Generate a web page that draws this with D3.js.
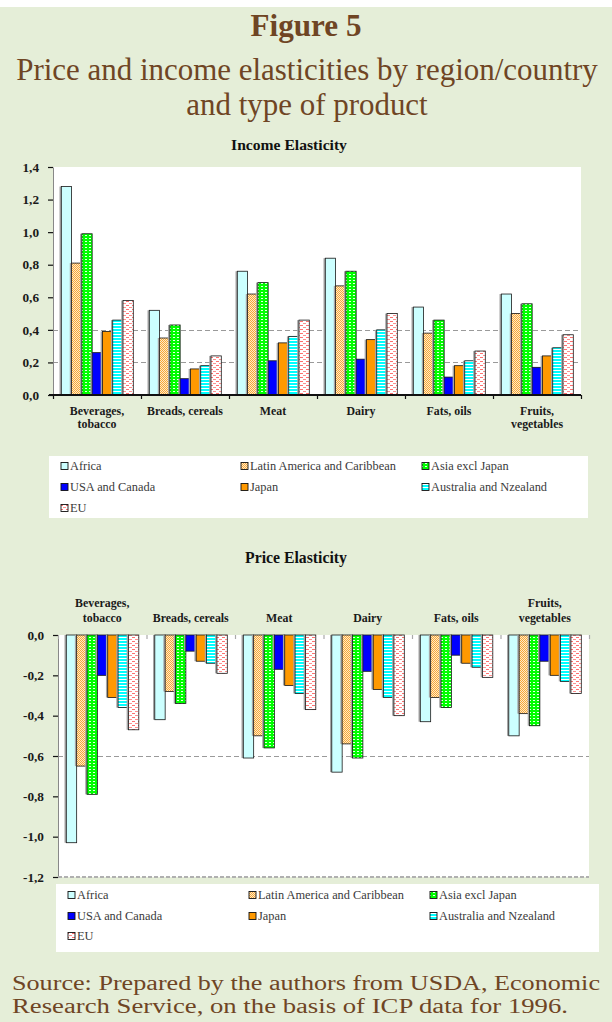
<!DOCTYPE html>
<html>
<head>
<meta charset="utf-8">
<script src="https://cdn.jsdelivr.net/npm/d3@7"></script>
<style>
  html, body { margin: 0; padding: 0; background: #e5eed8; }
  svg { display: block; }
</style>
</head>
<body>
<svg id="fig" width="612" height="1022"></svg>
<script>
// ---- Data -------------------------------------------------------------
const categories = ["Beverages,\ntobacco", "Breads, cereals", "Meat", "Dairy", "Fats, oils", "Fruits,\nvegetables"];
const regions = ["Africa", "Latin America and Caribbean", "Asia excl Japan", "USA and Canada", "Japan", "Australia and Nzealand", "EU"];

// Income elasticity, one array per region (order follows categories)
const incomeAfrica    = [1.28, 0.52, 0.76, 0.84, 0.54, 0.62];
const incomeLatin     = [0.81, 0.35, 0.62, 0.67, 0.38, 0.50];
const incomeAsia      = [0.99, 0.43, 0.69, 0.76, 0.46, 0.56];
const incomeUSA       = [0.26, 0.10, 0.21, 0.22, 0.11, 0.17];
const incomeJapan     = [0.39, 0.16, 0.32, 0.34, 0.18, 0.24];
const incomeAustralia = [0.46, 0.18, 0.36, 0.40, 0.21, 0.29];
const incomeEU        = [0.58, 0.24, 0.46, 0.50, 0.27, 0.37];

// Price elasticity, one array per region
const priceAfrica    = [-1.03, -0.42, -0.61, -0.68, -0.43, -0.50];
const priceLatin     = [-0.65, -0.28, -0.50, -0.54, -0.31, -0.39];
const priceAsia      = [-0.79, -0.34, -0.56, -0.61, -0.36, -0.45];
const priceUSA       = [-0.20, -0.08, -0.17, -0.18, -0.10, -0.13];
const priceJapan     = [-0.31, -0.13, -0.25, -0.27, -0.14, -0.20];
const priceAustralia = [-0.36, -0.14, -0.29, -0.31, -0.16, -0.23];
const priceEU        = [-0.47, -0.19, -0.37, -0.40, -0.21, -0.29];

const incomeTicks = [0, 0.2, 0.4, 0.6, 0.8, 1.0, 1.2, 1.4];
const priceTicks  = [0, -0.2, -0.4, -0.6, -0.8, -1.0, -1.2];
const incomeGrid  = [0.2, 0.4];
const priceGrid   = [-0.6];

const incomeSeries = [incomeAfrica, incomeLatin, incomeAsia, incomeUSA, incomeJapan, incomeAustralia, incomeEU];
const priceSeries  = [priceAfrica, priceLatin, priceAsia, priceUSA, priceJapan, priceAustralia, priceEU];

// ---- Setup ------------------------------------------------------------
const svg = d3.select("#fig");
const SERIF = "'Liberation Serif', 'Times New Roman', serif";
const BROWN = "#6f4524";
const fmt = v => d3.format(".1f")(v).replace("\u2212", "-").replace(".", ",");

svg.append("rect").attr("width", 612).attr("height", 1022).attr("fill", "#e5eed8");
svg.append("rect").attr("width", 612).attr("height", 7).attr("fill", "#ffffff");

// font size that makes a sample string span a given width
function sizeFor(str, target, weight) {
  const t = svg.append("text").attr("font-family", SERIF).attr("font-weight", weight || "normal")
    .attr("font-size", 20).text(str);
  const w = t.node().getComputedTextLength();
  t.remove();
  return 20 * target / w;
}
const catSize    = sizeFor("Breads, cereals", 76, "bold");
const tickSize   = sizeFor("-0,2", 21, "bold");
const legendSize = sizeFor("Latin America and Caribbean", 146, "normal");

// Fill patterns for each region
const defs = svg.append("defs");
function pattern(id, w, h, bg, marks) {
  const p = defs.append("pattern").attr("id", id).attr("patternUnits", "userSpaceOnUse")
    .attr("width", w).attr("height", h);
  p.append("rect").attr("width", w).attr("height", h).attr("fill", bg);
  marks.forEach(m => p.append("rect").attr("x", m[0]).attr("y", m[1]).attr("width", m[2]).attr("height", m[3]).attr("fill", m[4]));
  return `url(#${id})`;
}
const fills = [
  "#ccffff",
  pattern("pLatin", 2, 2, "#ffe9c8", [[0, 0, 1, 1, "#f7a838"], [1, 1, 1, 1, "#f7a838"]]),
  pattern("pAsia", 4, 3, "#00ff00", [[1, 1, 2, 1, "#e8ffe8"]]),
  "#0000ff",
  "#ff9900",
  pattern("pAus", 3, 3, "#00ffff", [[0, 1, 3, 1, "#ffffff"]]),
  pattern("pEU", 6, 4, "#ffffff", [[0, 1, 3, 1, "#ff7070"], [3, 3, 3, 1, "#ff9090"]])
];

// ---- Panel drawing ----------------------------------------------------
function drawPanel(cfg) {
  const g = svg.append("g");
  const x = d3.scaleBand().domain(d3.range(categories.length)).range([cfg.x0, cfg.x1]).padding(0);
  const inner = d3.scaleBand().domain(d3.range(regions.length))
    .range([8.3, x.bandwidth() - 7.7]).padding(0);
  const y = d3.scaleLinear().domain(cfg.domain).range([cfg.yBottom, cfg.yTop]);
  const yMin = Math.min(y(cfg.domain[0]), y(cfg.domain[1]));
  const yMax = Math.max(y(cfg.domain[0]), y(cfg.domain[1]));

  // plot area
  g.append("rect").attr("x", cfg.x0).attr("y", yMin).attr("width", cfg.x1 - cfg.x0)
    .attr("height", yMax - yMin).attr("fill", "#ffffff");

  // dashed gridlines
  g.selectAll(".grid").data(cfg.grid).join("line")
    .attr("x1", cfg.x0).attr("x2", cfg.x1)
    .attr("y1", d => Math.round(y(d)) + 0.5).attr("y2", d => Math.round(y(d)) + 0.5)
    .attr("stroke", "#9a9a9a").attr("stroke-width", 1).attr("stroke-dasharray", "5,3");

  // bars with a soft grey shadow strip
  const zero = y(0);
  regions.forEach((r, si) => {
    const vals = cfg.series[si];
    const bars = g.append("g");
    bars.selectAll("rect.sh").data(vals).join("rect")
      .attr("x", (d, ci) => x(ci) + inner(si) - 1.8)
      .attr("y", d => Math.min(zero, y(d)))
      .attr("width", inner.bandwidth())
      .attr("height", d => Math.abs(y(d) - zero))
      .attr("fill", "#a6a6a6");
    bars.selectAll("rect.bar").data(vals).join("rect")
      .attr("x", (d, ci) => x(ci) + inner(si))
      .attr("y", d => Math.min(zero, y(d)))
      .attr("width", inner.bandwidth())
      .attr("height", d => Math.abs(y(d) - zero))
      .attr("fill", fills[si])
      .attr("stroke", "#1a1a1a").attr("stroke-width", 0.8);
  });

  // value axis
  const yAxis = d3.axisLeft(y).tickValues(cfg.ticks).tickFormat(fmt).tickSizeInner(5).tickSizeOuter(0).tickPadding(cfg.tickPad);
  const ya = g.append("g").attr("transform", `translate(${cfg.x0},0)`).call(yAxis);
  ya.select(".domain").attr("stroke", "#888").attr("stroke-width", 1);
  ya.selectAll(".tick line").attr("stroke", "#111").attr("stroke-width", 1.2);
  ya.selectAll(".tick text").attr("font-family", SERIF).attr("font-weight", "bold")
    .attr("font-size", tickSize).attr("fill", "#1a1a1a");

  // category axis
  const bx = d3.scaleLinear().domain([0, categories.length]).range([cfg.x0, cfg.x1]);
  const xAxis = d3.axisBottom(bx).tickValues(d3.range(categories.length + 1)).tickFormat("")
    .tickSizeInner(4).tickSizeOuter(0);
  const xa = g.append("g").attr("transform", `translate(0,${zero})`).call(xAxis);
  if (cfg.catAxisLine) {
    xa.select(".domain").attr("stroke", "#111").attr("stroke-width", 2.2)
      .attr("d", `M${cfg.x0 - 4},0H${cfg.x1}`);
    xa.selectAll(".tick line").attr("stroke", "#111").attr("stroke-width", 1.2);
  } else {
    xa.select(".domain").remove();
    xa.selectAll(".tick line").attr("stroke", "#aaa").attr("stroke-width", 1.2);
  }

  if (cfg.bottomDash) {
    g.append("line").attr("x1", cfg.x0).attr("x2", cfg.x1)
      .attr("y1", yMax).attr("y2", yMax)
      .attr("stroke", "#b0b0b0").attr("stroke-width", 2).attr("stroke-dasharray", "4,2");
  }

  // category labels
  categories.forEach((c, ci) => {
    const lines = c.split("\n");
    const cx = x(ci) + x.bandwidth() / 2;
    lines.forEach((ln, li) => {
      const base = cfg.labelsBelow ? cfg.labelY + li * 13 : cfg.labelY - (lines.length - 1 - li) * 15;
      g.append("text").attr("x", cx).attr("y", base).attr("text-anchor", "middle")
        .attr("font-family", SERIF).attr("font-weight", "bold").attr("font-size", catSize)
        .attr("fill", "#1a1a1a").text(ln);
    });
  });

  // panel title
  g.append("text").attr("x", cfg.titleX).attr("y", cfg.titleY).attr("text-anchor", "middle")
    .attr("font-family", SERIF).attr("font-weight", "bold")
    .attr("font-size", sizeFor(cfg.title, cfg.titleW, "bold"))
    .attr("fill", "#111").text(cfg.title);

  // legend
  const L = cfg.legend;
  const lg = svg.append("g");
  lg.append("rect").attr("x", L.x).attr("y", L.y).attr("width", L.w).attr("height", L.h).attr("fill", "#ffffff");
  regions.forEach((r, i) => {
    const col = i % 3, row = Math.floor(i / 3);
    const sx = L.cols[col], sy = L.rows[row];
    lg.append("rect").attr("x", sx).attr("y", sy - 3.5).attr("width", 7).attr("height", 7)
      .attr("fill", fills[i]).attr("stroke", "#111").attr("stroke-width", 0.9);
    lg.append("text").attr("x", sx + 9).attr("y", sy + 3.8)
      .attr("font-family", SERIF).attr("font-size", legendSize).attr("fill", "#3a3a3a").text(r);
  });
}

drawPanel({
  title: "Income Elasticity", titleX: 289, titleY: 150, titleW: 116,
  series: incomeSeries, domain: [0, 1.4], ticks: incomeTicks, grid: incomeGrid,
  x0: 53, x1: 581, yBottom: 395, yTop: 167, tickPad: 9,
  catAxisLine: true, bottomDash: false,
  labelsBelow: true, labelY: 415,
  legend: { x: 49, y: 456, w: 539, h: 62, cols: [61, 241, 422], rows: [466, 487, 508] }
});

drawPanel({
  title: "Price Elasticity", titleX: 296, titleY: 563, titleW: 102,
  series: priceSeries, domain: [0, -1.2], ticks: priceTicks, grid: priceGrid,
  x0: 58, x1: 589, yBottom: 635, yTop: 877, tickPad: 9,
  catAxisLine: false, bottomDash: true,
  labelsBelow: false, labelY: 622,
  legend: { x: 56, y: 884, w: 543, h: 68, cols: [68, 249, 430], rows: [895, 916, 936] }
});

// ---- Figure heading and source note ------------------------------------
svg.append("text").attr("x", 306).attr("y", 36).attr("text-anchor", "middle")
  .attr("font-family", SERIF).attr("font-weight", "bold").attr("fill", BROWN)
  .attr("font-size", sizeFor("Figure 5", 111, "bold")).text("Figure 5");

const headSize = sizeFor("Price and income elasticities by region/country", 582, "normal");
svg.append("text").attr("x", 307).attr("y", 80).attr("text-anchor", "middle")
  .attr("font-family", SERIF).attr("font-size", headSize).attr("fill", BROWN)
  .text("Price and income elasticities by region/country");
svg.append("text").attr("x", 307).attr("y", 115).attr("text-anchor", "middle")
  .attr("font-family", SERIF).attr("font-size", headSize).attr("fill", BROWN).text("and type of product");

// source note: two tightly set lines, glyphs widened to the column width
svg.append("text").attr("x", 12).attr("y", 990)
  .attr("font-family", SERIF).attr("font-size", 20).attr("fill", BROWN)
  .attr("textLength", 588).attr("lengthAdjust", "spacingAndGlyphs")
  .text("Source: Prepared by the authors from USDA, Economic");
svg.append("text").attr("x", 12).attr("y", 1013)
  .attr("font-family", SERIF).attr("font-size", 20).attr("fill", BROWN)
  .attr("textLength", 556).attr("lengthAdjust", "spacingAndGlyphs")
  .text("Research Service, on the basis of ICP data for 1996.");
</script>
</body>
</html>
